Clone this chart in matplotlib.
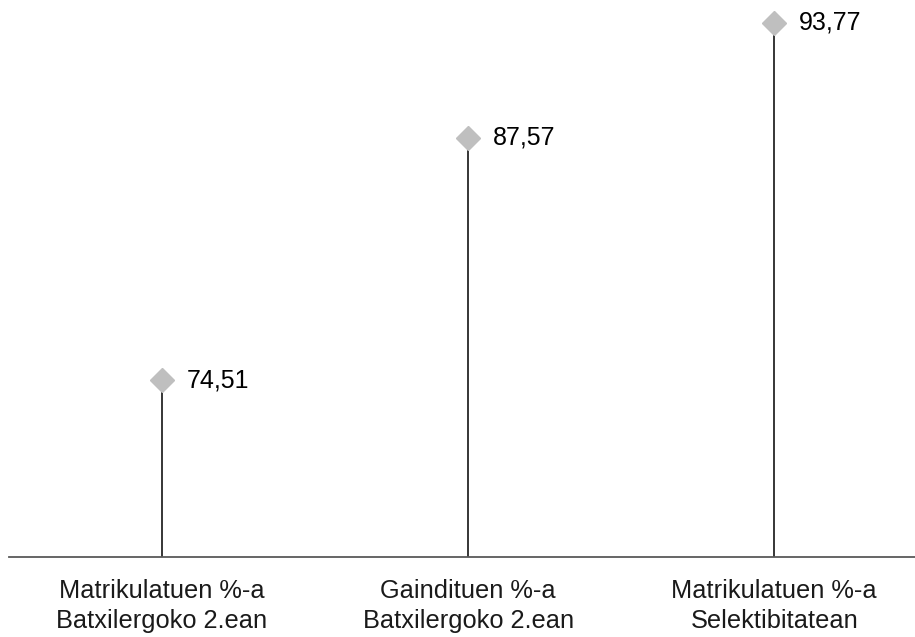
import numpy as np
import matplotlib.pyplot as plt

# data
categories = ['Matrikulatuen %-a\nBatxilergoko 2.ean',
              'Gaindituen %-a\nBatxilergoko 2.ean',
              'Matrikulatuen %-a\nSelektibitatean']
values = [74.51, 87.57, 93.77]

plt.rcParams['font.family'] = ['Liberation Sans', 'DejaVu Sans']

fig = plt.figure(figsize=(9.15, 6.37), dpi=100)
ax = fig.add_axes([9 / 915, 1 - 557 / 637, 906 / 915, 557 / 637])

x = np.arange(len(values))
ax.vlines(x, 65, values, colors='#262626', linewidth=1.3, zorder=1)
ax.plot(x, values, linestyle='none', marker='D', markersize=12,
        color='#BFBFBF', zorder=2)

for xi, v in zip(x, values):
    ax.annotate(f'{v:.2f}'.replace('.', ','), xy=(xi, v), xytext=(18, 0),
                textcoords='offset points', ha='left', va='center',
                fontsize=18, color='black')

ax.set_xlim(-0.5, 2.46)
ax.set_ylim(65, 95)
ax.set_xticks(x)
ax.set_xticklabels(categories, fontsize=18.3, color='#1a1a1a', linespacing=1.32)
ax.tick_params(axis='x', length=0, pad=16)
ax.set_yticks([])

for side in ['top', 'right', 'left']:
    ax.spines[side].set_visible(False)
ax.spines['bottom'].set_color('#595959')
ax.spines['bottom'].set_linewidth(1.3)

fig.savefig('out.png', dpi=100)
